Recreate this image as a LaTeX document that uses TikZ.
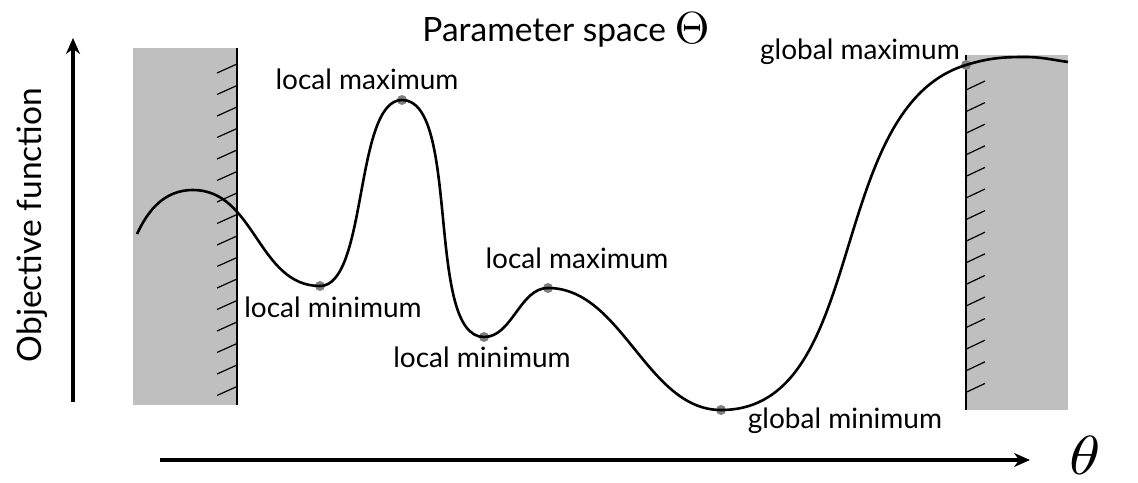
\documentclass[tikz,border=0pt]{standalone}
\usepackage{fontspec}
\setmainfont{Lato}
\usetikzlibrary{arrows.meta}
\begin{document}
\begin{tikzpicture}[x=1pt,y=1pt,
  lbl/.style={font=\fontsize{28}{32}\selectfont, inner sep=0pt},
  big/.style={font=\fontsize{33.5}{38}\selectfont, inner sep=0pt},
  wallfill/.style={fill=black!25, draw=none},
  wall/.style={line width=1.8pt},
  hatch/.style={line width=1.2pt},
  curve/.style={line width=2.6pt},
  dot/.style={circle, fill=black!50, minimum size=10pt, inner sep=0pt},
  axis/.style={line width=4pt, -{Stealth[length=16pt,width=14pt]}}]
\useasboundingbox (0,0) rectangle (1138,482);
% walls
\fill[wallfill] (133,77) rectangle (237,434);
\fill[wallfill] (966,72) rectangle (1068,427);
\coordinate (lwt) at (237,434); \coordinate (lwb) at (237,77);
\coordinate (rwt) at (966,427); \coordinate (rwb) at (966,72);
\draw[wall] (lwb) -- (lwt);
\draw[wall] (rwb) -- (rwt);
\foreach \i in {0,...,15} \draw[hatch] (217,409-21.5*\i) -- (237,418-21.5*\i);
\foreach \i in {0,...,14} \draw[hatch] (966,392-21.6*\i) -- (985,401-21.6*\i);
% curve points
\coordinate (s) at (137,248);
\coordinate (p0) at (193,292);
\node[dot] (m1) at (320,196) {};
\node[dot] (M1) at (402,382) {};
\node[dot] (m2) at (484,145) {};
\node[dot] (M2) at (548,194) {};
\node[dot] (gm) at (721,72) {};
\node[dot] (gM) at (966,417) {};
\coordinate (top) at (1025,425);
\coordinate (e) at (1068,420);
\draw[curve] (s) to[out=65,in=180] (p0)
  to[out=0,in=180] (m1.center)
  to[out=0,in=180,looseness=0.6] (M1.center)
  to[out=0,in=180,looseness=0.6] (m2.center)
  to[out=0,in=180,looseness=0.9] (M2.center)
  to[out=0,in=180,looseness=0.9] (gm.center)
  to[out=0,in=197,looseness=0.9] (gM.center)
  to[out=17,in=180] (top)
  to[out=0,in=172] (e);
% labels
\node[lbl] (lM1) at (367,403) {local maximum};
\node[lbl] (lm1) at (333,175) {local minimum};
\node[lbl] (lm2) at (482,125) {local minimum};
\node[lbl] (lM2) at (577,224) {local maximum};
\node[lbl] (lgm) at (845,61) {global minimum};
\node[lbl] (lgM) at (860,430) {global maximum};
\node[big] (title) at (566,452) {Parameter space {\fontsize{10}{12}\selectfont\raisebox{-2pt}{\scalebox{4.5}{$\Theta$}}}};
\node[big, rotate=90] (ylab) at (32,257) {Objective function};
% axes
\coordinate (ya) at (73,80); \coordinate (yb) at (73,444);
\coordinate (xa) at (160,22); \coordinate (xb) at (1030,22);
\draw[axis] (ya) -- (yb);
\draw[axis] (xa) -- (xb);
\node[inner sep=0pt] (th) at (1085,27) {\scalebox{6.3}[5.5]{$\theta$}};
\end{tikzpicture}
\end{document}
